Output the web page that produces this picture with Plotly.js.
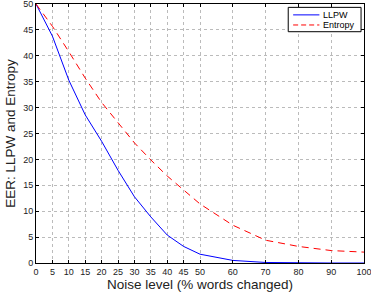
<!DOCTYPE html>
<html>
<head>
<meta charset="utf-8">
<script src="https://cdn.plot.ly/plotly-3.0.1.min.js"></script>
<style>html,body{margin:0;padding:0;background:#fff;}#chart{width:371px;height:292px;}</style>
</head>
<body>
<div id="chart"></div>
<script>
var noiseLevel = [0, 5, 10, 15, 20, 25, 30, 35, 40, 45, 50, 60, 70, 80, 90, 100];
var llpw =       [50, 43.8, 35.3, 28.6, 23.5, 17.9, 12.8, 8.9, 5.4, 3.2, 1.7, 0.5, 0.1, 0, 0, 0];
var entropy =    [50, 45.7, 40.8, 35.7, 31.0, 27.0, 23.2, 19.9, 16.8, 14.1, 11.4, 7.3, 4.4, 3.2, 2.4, 2.1];
var xTicks = [0, 5, 10, 15, 20, 25, 30, 35, 40, 45, 50, 60, 70, 80, 90, 100];
var yTicks = [0, 5, 10, 15, 20, 25, 30, 35, 40, 45, 50];
var seriesNames = ['LLPW', 'Entropy'];

var font = 'Liberation Sans, Arial, sans-serif';
var blue = '#0000ff', red = '#ff0000', dash = '7px,5px';
var traces = [
  {x: noiseLevel, y: llpw, name: seriesNames[0], mode: 'lines', line: {color: blue, width: 1}},
  {x: noiseLevel, y: entropy, name: seriesNames[1], mode: 'lines', line: {color: red, width: 1, dash: dash}}
];
var axisCommon = {
  showline: true, mirror: 'allticks', linecolor: '#000', linewidth: 1,
  ticks: 'inside', ticklen: 3, tickcolor: '#000', tickwidth: 1,
  showgrid: true, gridcolor: '#bbbbbb', griddash: 'dot', gridwidth: 1,
  zeroline: false, tickfont: {family: font, size: 9, color: '#222'},
  ticklabeloverflow: 'allow'
};
// hand-drawn legend box (MATLAB style) in paper coordinates
var shapes = [
  {type: 'rect', xref: 'paper', yref: 'paper', x0: 0.769, x1: 0.991, y0: 0.893, y1: 0.987,
   fillcolor: '#fff', line: {color: '#000', width: 1}, layer: 'above'},
  {type: 'line', xref: 'paper', yref: 'paper', x0: 0.784, x1: 0.864, y0: 0.958, y1: 0.958,
   line: {color: blue, width: 1}, layer: 'above'},
  {type: 'line', xref: 'paper', yref: 'paper', x0: 0.784, x1: 0.864, y0: 0.919, y1: 0.919,
   line: {color: red, width: 1, dash: '5px,3px'}, layer: 'above'}
];
var annotations = [
  {xref: 'paper', yref: 'paper', x: 0.869, y: 0.958, xanchor: 'left', yanchor: 'middle',
   text: seriesNames[0], showarrow: false, font: {family: font, size: 9, color: '#000'}},
  {xref: 'paper', yref: 'paper', x: 0.869, y: 0.919, xanchor: 'left', yanchor: 'middle',
   text: seriesNames[1], showarrow: false, font: {family: font, size: 9, color: '#000'}}
];
var layout = {
  width: 371, height: 292,
  margin: {l: 36, r: 7, t: 4, b: 29},
  paper_bgcolor: '#fff', plot_bgcolor: '#fff',
  showlegend: false,
  shapes: shapes, annotations: annotations,
  xaxis: Object.assign({}, axisCommon, {
    range: [0, 100], tickmode: 'array', tickvals: xTicks, ticktext: xTicks.map(String),
    title: {text: 'Noise level (% words changed)', font: {family: font, size: 13.5, color: '#222'}, standoff: 2}
  }),
  yaxis: Object.assign({}, axisCommon, {
    range: [0, 50], tickmode: 'array', tickvals: yTicks, ticktext: yTicks.map(String),
    title: {text: 'EER: LLPW and Entropy', font: {family: font, size: 13.5, color: '#222'}, standoff: 4}
  })
};
Plotly.newPlot('chart', traces, layout, {displayModeBar: false, staticPlot: true});
</script>
</body>
</html>
